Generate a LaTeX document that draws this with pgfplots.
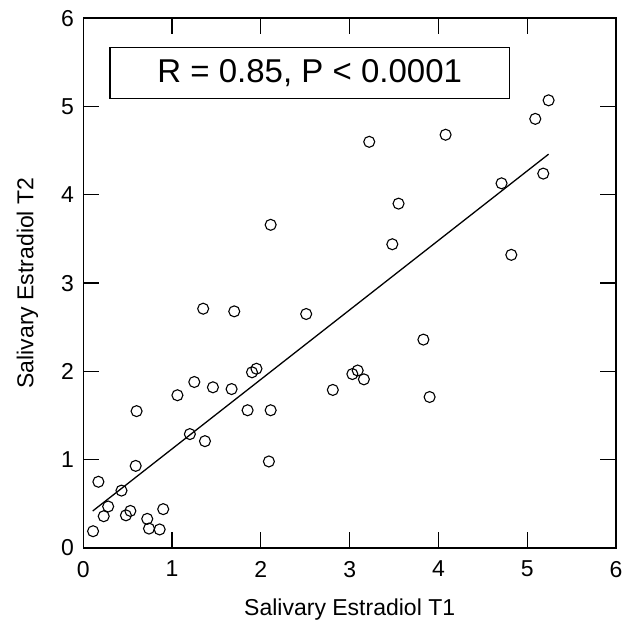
\documentclass[border=0pt]{standalone}
\usepackage{fontspec}
\setmainfont{Liberation Sans}
\usepackage{pgfplots}
\pgfplotsset{compat=1.18}

\begin{document}
\begin{tikzpicture}
\begin{axis}[
  scale only axis, width=266.4pt, height=264.9pt,
  xmin=0, xmax=6, ymin=0, ymax=6,
  xtick={0,...,6}, ytick={0,...,6},
  tick align=inside, major tick length=7.8pt,
  every tick/.style={black, line width=0.6pt},
  axis line style={line width=0.7pt},
  /pgf/number format/assume math mode=true,
  tick label style={font=\fontsize{11.5}{13}\selectfont},
  xticklabel style={yshift=-3pt},
  yticklabel style={xshift=-1.2pt},
  label style={font=\fontsize{11.5}{13}\selectfont},
  xlabel={Salivary Estradiol T1},
  ylabel={Salivary Estradiol T2},
  xlabel style={at={(axis description cs:0.5,-0.1265)}, anchor=base},
  ylabel style={at={(axis description cs:-0.0938,0.5)}, anchor=base},
  clip=false,
]
% measurements
\addplot[only marks, mark=o, mark size=2.75pt, mark options={line width=0.55pt}]
  coordinates {
  (0.11,0.19) (0.17,0.75) (0.23,0.36) (0.28,0.47) (0.43,0.65)
  (0.48,0.37) (0.53,0.42) (0.59,0.93) (0.60,1.55) (0.72,0.33)
  (0.74,0.22) (0.86,0.21) (0.90,0.44) (1.06,1.73) (1.20,1.29)
  (1.25,1.88) (1.35,2.71) (1.37,1.21) (1.46,1.82) (1.67,1.80)
  (1.70,2.68) (1.85,1.56) (1.90,1.99) (1.95,2.03) (2.09,0.98)
  (2.11,1.56) (2.11,3.66) (2.51,2.65) (2.81,1.79) (3.03,1.97)
  (3.09,2.01) (3.16,1.91) (3.22,4.60) (3.48,3.44) (3.55,3.90)
  (3.83,2.36) (3.90,1.71) (4.08,4.68) (4.71,4.13) (4.82,3.32)
  (5.09,4.86) (5.18,4.24) (5.24,5.07)
  };
% regression line
\addplot[line width=0.65pt, no marks] coordinates {(0.106,0.419) (5.24,4.46)};

\draw[line width=0.65pt] (axis cs:0.30,5.09) rectangle (axis cs:4.80,5.67);
\node[font=\fontsize{16.5}{19}\selectfont] at (axis cs:2.55,5.38) {R = 0.85, P < 0.0001};
\end{axis}
\pgfresetboundingbox
\path ([shift={(-41.65pt,-36pt)}]current axis.south west)
  rectangle ([shift={(273.85pt,274pt)}]current axis.south west);
\end{tikzpicture}
\end{document}
